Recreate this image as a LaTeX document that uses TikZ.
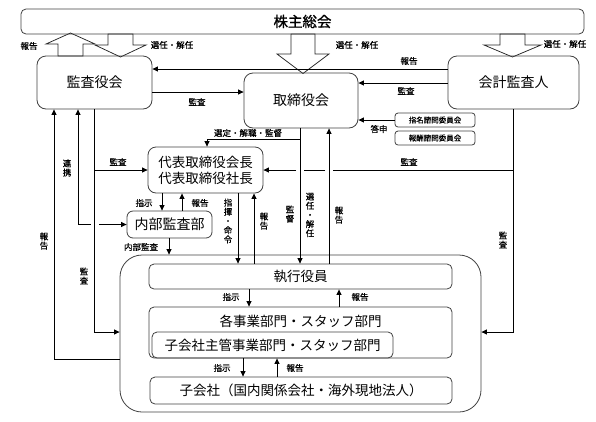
\documentclass[tikz,border=0pt]{standalone}
\usepackage{fontspec}
\newfontfamily\jp{Noto Sans CJK JP}
\newfontfamily\jpb[FakeBold=1.2]{Noto Sans CJK JP}
\newfontfamily\jpl[FakeBold=0.6]{Noto Sans CJK JP}
\usetikzlibrary{arrows.meta}
\begin{document}
\begin{tikzpicture}[x=1pt,y=-1pt,
  box/.style={draw=black!75, rounded corners=6pt, inner sep=0pt, line width=0.8pt},
  big/.style={font=\jp\fontsize{14}{16}\selectfont},
  mid/.style={font=\jp\fontsize{13.5}{16}\selectfont},
  small/.style={font=\jpl\fontsize{7.5}{9}\selectfont},
  lbl/.style={inner sep=0pt, font=\jpl\fontsize{8.5}{10}\selectfont},
  vlbl/.style={inner sep=0pt, align=center, font=\jpl\fontsize{8.5}{9.2}\selectfont},
  ln/.style={line width=0.9pt},
  arr/.style={ln, -{Triangle[length=5.5pt,width=5pt]}},
  arrb/.style={ln, {Triangle[length=5.5pt,width=5pt]}-},
  blk/.style={draw=black!85, fill=white, line width=0.75pt, line join=miter}]
\useasboundingbox (0,0) rectangle (596,421);
% helper coordinates
\foreach \v in {54,78,162,169,182,207,238,243,249,254,277,300,329,339}{\coordinate (X\v) at (\v,0);}
\foreach \v in {69,83,92,139,332,359}{\coordinate (Y\v) at (0,\v);}
\foreach \v in {91,99,296,304,325,333}{\coordinate (G\v) at (\v,0);}
% block arrows
\draw[blk] (108,34) -- (108,45) -- (95,45) -- (120.5,57) -- (146,45) -- (133,45) -- (133,34) -- cycle;
\draw[blk] (58,56) -- (58,44) -- (46,44) -- (70.5,33) -- (95,44) -- (83,44) -- (83,56) -- cycle;
\draw[blk] (291,34) -- (291,54) -- (277,54) -- (303,73.5) -- (329,54) -- (315,54) -- (315,34) -- cycle;
\draw[blk] (500,34) -- (500,45) -- (484,45) -- (512.5,57) -- (541,45) -- (525,45) -- (525,34) -- cycle;
% boxes
\node[box, rounded corners=5pt, minimum width=563pt, minimum height=25pt, font=\jpb\fontsize{14.5}{16}\selectfont] (sh) at (302.5,21.5) {株主総会};
\node[box, rounded corners=9pt, minimum width=115pt, minimum height=53pt, big] (kansa) at (94.5,82.5) {監査役会};
\node[box, rounded corners=9pt, minimum width=114pt, minimum height=55pt, big] (tori) at (301,100.5) {取締役会};
\node[box, rounded corners=9pt, minimum width=131pt, minimum height=53pt, big] (kaikei) at (513.5,82.5) {会計監査人};
\node[box, rounded corners=3pt, minimum width=80pt, minimum height=14pt, small] (shimei) at (435,120) {指名諮問委員会};
\node[box, rounded corners=3pt, minimum width=80pt, minimum height=14pt, small] (hoshu) at (435,138) {報酬諮問委員会};
\node[box, rounded corners=8pt, minimum width=115pt, minimum height=46pt, mid, align=center] (daihyo) at (205.5,170) {代表取締役会長\\代表取締役社長};
\node[box, rounded corners=6pt, minimum width=85pt, minimum height=27pt, big] (naibu) at (169.5,224.5) {内部監査部};
\node[box, rounded corners=22pt, minimum width=361pt, minimum height=157pt] (bigbox) at (300.5,333.5) {};
\node[box, rounded corners=5pt, minimum width=303pt, minimum height=25pt, mid] (shikko) at (300.5,276.5) {執行役員};
\node[box, rounded corners=5pt, minimum width=303pt, minimum height=51pt] (kaku) at (300.5,332.5) {};
\node[mid, inner sep=0pt] (kakut) at (300.5,321) {各事業部門・スタッフ部門};
\node[box, rounded corners=5pt, minimum width=241pt, minimum height=26pt, mid] (shukan) at (272.5,345) {子会社主管事業部門・スタッフ部門};
\node[box, rounded corners=5pt, minimum width=302pt, minimum height=27pt, mid] (kog) at (301,390.5) {子会社（国内関係会社・海外現地法人）};
% connectors
\draw[arr] (kaikei.west |- Y69) -- (kansa.east |- Y69);
\draw[arr] (kaikei.west |- Y83) -- (tori.east |- Y83);
\draw[arr] (kansa.east |- Y92) -- (tori.west |- Y92);
\draw[arr] (shimei.west) -- (tori.east |- shimei.west);
\draw[arr] (tori.south -| X300) -- (X300 |- Y139) -- (X207 |- Y139) -- (daihyo.north -| X207);
\draw[arr] (tori.south -| X300) -- (shikko.north -| X300);
\draw[arr] (shikko.north -| X329) -- (tori.south -| X329);
% kaikei audit
\draw[arr] (kaikei.south) |- (bigbox.east |- Y332);
\draw[ln] (kaikei.south |- daihyo.east) -- (G333 |- daihyo.east);
\draw[ln] (G325 |- daihyo.east) -- (G304 |- daihyo.east);
\draw[arr] (G296 |- daihyo.east) -- (daihyo.east);
% kansa audit
\draw[arr] (kansa.south) |- (bigbox.west |- Y332);
\draw[arr] (kansa.south |- daihyo.west) -- (daihyo.west);
% renkei
\draw[arrb] (kansa.south -| X78) -- (X78 |- naibu.west) -- (G91 |- naibu.west);
\draw[arr] (G99 |- naibu.west) -- (naibu.west);
% report to kansa
\draw[arr] (bigbox.west |- Y359) -| (kansa.south -| X54);
% internal
\draw[arr] (daihyo.south -| X162) -- (naibu.north -| X162);
\draw[arr] (naibu.north -| X182) -- (daihyo.south -| X182);
\draw[arr] (naibu.south -| X169) -- (bigbox.north -| X169);
\draw[arr] (daihyo.south -| X238) -- (shikko.north -| X238);
\draw[arr] (shikko.north -| X254) -- (daihyo.south -| X254);
\draw[arr] (shikko.south -| X249) -- (kaku.north -| X249);
\draw[arr] (kaku.north -| X339) -- (shikko.south -| X339);
\draw[arr] (kaku.south -| X243) -- (kog.north -| X243);
\draw[arr] (kog.north -| X277) -- (kaku.south -| X277);
% labels
\node[lbl] (t1) at (29,46) {報告};
\node[lbl] (t2) at (172,45) {選任・解任};
\node[lbl] (t3) at (357,45) {選任・解任};
\node[lbl] (t4) at (565,44) {選任・解任};
\node[lbl] (t5) at (409,61) {報告};
\node[lbl] (t6) at (406,91) {監査};
\node[lbl] (t7) at (197,102) {監査};
\node[lbl] (t8) at (379,129) {答申};
\node[lbl] (t9) at (248,133) {選定・解職・監督};
\node[lbl] (t10) at (409,162) {監査};
\node[lbl] (t11) at (118,162) {監査};
\node[vlbl] (t12) at (67,168) {連\\携};
\node[vlbl] (t13) at (44,241) {報\\告};
\node[vlbl] (t14) at (84,276) {監\\査};
\node[vlbl] (t15) at (503,240) {監\\査};
\node[vlbl] (t16) at (290,214) {監\\督};
\node[vlbl] (t17) at (310,215) {選\\任\\・\\解\\任};
\node[vlbl] (t18) at (339,215) {報\\告};
\node[vlbl] (t19) at (228,221) {指\\揮\\・\\命\\令};
\node[vlbl] (t20) at (264,221) {報\\告};
\node[lbl] (t21) at (144,203) {指示};
\node[lbl] (t22) at (200,203) {報告};
\node[lbl] (t23) at (141,247) {内部監査};
\node[lbl] (t24) at (231,297) {指示};
\node[lbl] (t25) at (360,297) {報告};
\node[lbl] (t26) at (222,368) {指示};
\node[lbl] (t27) at (295,368) {報告};
\end{tikzpicture}
\end{document}
